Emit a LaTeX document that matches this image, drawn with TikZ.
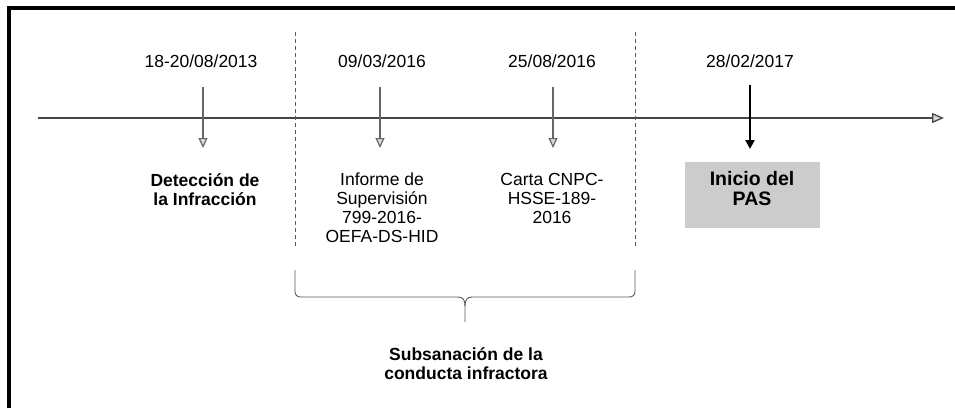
\documentclass[tikz,border=0pt]{standalone}
\usepackage{fontspec}
\setmainfont{Liberation Sans}
\usetikzlibrary{arrows.meta}
\begin{document}
\begin{tikzpicture}[x=1pt,y=-1pt,
  txt/.style={font=\fontsize{17.5}{19}\selectfont, align=center, inner sep=0pt},
  btxt/.style={txt, font=\fontsize{17.5}{19}\selectfont\bfseries},
  evarrow/.style={draw=black!60, line width=1.2pt, -{Triangle[length=10pt,width=9pt,open,fill=black!15]}},
  mainarrow/.style={draw=black, line width=2.2pt, -{Triangle[length=9pt,width=9pt]}},
  timeline/.style={draw=black!72, line width=1.3pt, -{Triangle[length=12pt,width=10pt,open,fill=black!15]}},
  sepline/.style={draw=black!65, line width=0.9pt, dash pattern=on 4pt off 3pt},
  bracket/.style={draw=black!65, line width=0.9pt},
  pasbox/.style={fill=black!20, minimum width=135pt, minimum height=66pt, inner sep=0pt}]
\useasboundingbox (0,0) rectangle (955,408);
% frame
\draw[line width=3.5pt] (9,408) -- (9,8) -- (955,8);
% timeline
\coordinate (t0) at (38,118);
\coordinate (t1) at (944,118);
\draw[timeline] (t0) -- (t1);
% separators
\coordinate (s1a) at (295,32); \coordinate (s1b) at (295,248);
\coordinate (s2a) at (635,32); \coordinate (s2b) at (635,248);
\draw[sepline] (s1a) -- (s1b);
\draw[sepline] (s2a) -- (s2b);
% dates
\node[txt] (d1) at (201,61) {18-20/08/2013};
\node[txt] (d2) at (382,61) {09/03/2016};
\node[txt] (d3) at (552,61) {25/08/2016};
\node[txt] (d4) at (750,61) {28/02/2017};
% event arrows
\coordinate (a1s) at (203,87);  \coordinate (a1e) at (203,148);
\coordinate (a2s) at (380,87);  \coordinate (a2e) at (380,148);
\coordinate (a3s) at (553,87);  \coordinate (a3e) at (553,148);
\coordinate (a4s) at (750,85);  \coordinate (a4e) at (750,149);
\draw[evarrow] (a1s) -- (a1e);
\draw[evarrow] (a2s) -- (a2e);
\draw[evarrow] (a3s) -- (a3e);
\draw[mainarrow] (a4s) -- (a4e);
% labels
\node[btxt, anchor=north] (l1) at (205,173) {Detección de\\la Infracción};
\node[txt, anchor=north] (l2) at (382,173) {Informe de\\Supervisión\\799-2016-\\OEFA-DS-HID};
\node[txt, anchor=north] (l3) at (552,173) {Carta CNPC-\\HSSE-189-\\2016};
\node[pasbox] (box) at (752.5,195) {};
\node[txt, font=\fontsize{19.5}{20}\selectfont\bfseries, anchor=north] (l4) at (752,171) {Inicio del\\PAS};
% bracket
\coordinate (bL) at (295,270);
\coordinate (bR) at (635,270);
\coordinate (bT) at (465,322);
\draw[bracket] (bL) -- (295,291) .. controls (295,295) and (297,297) .. (301,297)
  -- (458,297) .. controls (463,297) and (465,300) .. (465,306) -- (bT);
\draw[bracket] (bR) -- (635,291) .. controls (635,295) and (633,297) .. (629,297)
  -- (472,297) .. controls (467,297) and (465,300) .. (465,306);
\node[btxt, anchor=north] (l5) at (466,347) {Subsanación de la\\conducta infractora};
\end{tikzpicture}
\end{document}
